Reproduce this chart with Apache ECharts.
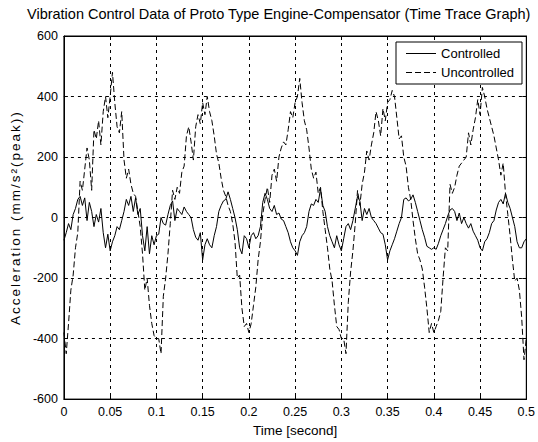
<!DOCTYPE html>
<html>
<head>
<meta charset="utf-8">
<script src="https://cdn.jsdelivr.net/npm/echarts@6/dist/echarts.min.js"></script>
<style>
html,body{margin:0;padding:0;background:#fff;}
#chart{width:538px;height:442px;}
</style>
</head>
<body>
<div id="chart"></div>
<script>
// Sample spacing of the time trace (seconds)
var timeStep = 0.0025;

// Uncontrolled acceleration (mm/s^2 peak), one value per time step from t = 0 to 0.5 s
var uncontrolled = [
  -380, -450, -350, -240, -190, -100, -50, 120, 90, 160,
  230, 190, 90, 290, 260, 320, 240, 350, 400, 330,
  400, 480, 380, 300, 280, 350, 190, 130, 160, 110,
  80, 70, 20, -30, -120, -240, -200, -290, -350, -390,
  -400, -400, -450, -260, -200, -120, -20, 90, 60, 100,
  80, 150, 170, 270, 300, 250, 190, 300, 340, 310,
  380, 340, 400, 350, 320, 270, 210, 180, 130, 90,
  70, 40, 20, -20, -80, -200, -190, -300, -360, -350,
  -380, -350, -290, -230, -140, -80, 10, 60, 100, 50,
  140, 160, 120, 200, 230, 250, 240, 290, 350, 330,
  380, 400, 460, 380, 320, 290, 230, 160, 130, 150,
  80, 100, 20, -40, -100, -170, -210, -290, -360, -370,
  -400, -400, -450, -280, -180, -110, -20, 90, 40, 110,
  150, 220, 190, 240, 280, 350, 320, 270, 360, 320,
  380, 390, 420, 400, 330, 260, 270, 200, 170, 100,
  60, -10, -70, -120, -140, -170, -230, -300, -380, -350,
  -380, -360, -340, -310, -200, -100, -110, 110, 80, 100,
  140, 170, 180, 190, 200, 280, 240, 290, 330, 390,
  340, 430, 400, 360, 330, 300, 270, 230, 190, 140,
  180, 80, 10, -60, -140, -210, -200, -240, -330, -470,
  -400
];

// Controlled acceleration (mm/s^2 peak), same time steps
var controlled = [
  -75, -50, -20, -40, 10, 30, 60, 70, 40, 65,
  -10, 50, 20, -30, 10, -15, 30, -50, -100, -55,
  -110, -80, -60, -30, -40, -10, 20, 60, 40, 70,
  20, 65, 10, 30, -60, -110, -30, -120, -60, -90,
  -60, -55, 0, -20, -25, 10, 40, 55, -10, 30,
  20, 10, 35, 20, 10, 0, -40, -65, -75, -50,
  -140, -90, -70, -90, -100, -60, -30, 20, 40, 55,
  60, 85, 60, 30, 0, -40, -100, -120, -60, -70,
  -100, -60, -50, -70, -60, -30, 50, 80, 60, 30,
  20, 40, 10, 15, -5, -10, -30, -50, -80, -100,
  -110, -125, -80, -60, -50, -30, 20, 45, 40, 60,
  50, 95, 40, 20, -30, -60, -80, -100, -60, -90,
  -110, -70, -30, -20, -40, -10, 30, 70, 55, -10,
  30, 10, 30, 0, -10, -20, -35, -50, -55, -90,
  -140, -110, -90, -70, -45, -20, 0, 60, 65, 55,
  60, 75, 50, 20, -10, -40, -65, -95, -100, -105,
  -100, -105, -85, -60, -40, -20, 5, 25, 30, 20,
  -10, 15, -20, 0, -20, -35, -20, -45, -60, -75,
  -100, -110, -80, -70, -50, -20, -10, 25, 50, 60,
  45, 80, 50, 30, 0, -30, -80, -100, -100, -80,
  -70
];

var seriesNames = ['Controlled', 'Uncontrolled'];
var titleText = 'Vibration Control Data of Proto Type Engine-Compensator (Time Trace Graph)';
var xName = 'Time [second]';
var yName = 'Acceleration (mm/s\u00B2(peak))';

function pairs(vals) {
  return vals.map(function (v, i) { return [+(i * timeStep).toFixed(4), v]; });
}

var font = 'Arial, "Liberation Sans", sans-serif';
var gridLine = { show: true, lineStyle: { color: '#000', type: [3, 4], width: 1 } };
var solidIcon = 'path://M0,0h30v1h-30z';
var dashIcon = 'path://M0,0h6v1h-6z M9,0h6v1h-6z M18,0h6v1h-6z M27,0h3v1h-3z';

var chart = echarts.init(document.getElementById('chart'), null, { renderer: 'svg' });
chart.setOption({
  animation: false,
  backgroundColor: '#fff',
  title: {
    text: titleText,
    left: 27, top: 6, padding: 0,
    textStyle: { fontFamily: font, fontSize: 14.5, fontWeight: 'normal', color: '#000' }
  },
  legend: {
    data: [{ name: seriesNames[0], icon: solidIcon }, { name: seriesNames[1], icon: dashIcon }],
    orient: 'vertical',
    right: 16, top: 42,
    itemWidth: 30, itemHeight: 1, itemGap: 6,
    padding: [5, 8, 5, 10],
    backgroundColor: '#fff',
    borderColor: '#000', borderWidth: 1,
    textStyle: { fontFamily: font, fontSize: 13, color: '#000', lineHeight: 13 }
  },
  grid: { left: 61, right: 11, top: 36, bottom: 40, show: true, borderColor: '#000', borderWidth: 1 },
  xAxis: [{
    type: 'value', min: 0, max: 0.5, interval: 0.05,
    name: xName, nameLocation: 'middle', nameGap: 23,
    nameTextStyle: { fontFamily: font, fontSize: 13.5, color: '#000' },
    axisLine: { show: true, onZero: false, lineStyle: { color: '#000' } },
    axisTick: { show: true, inside: true, length: 4, lineStyle: { color: '#000' } },
    axisLabel: { fontFamily: font, fontSize: 12.5, color: '#000', margin: 6,
      formatter: function (v) { return String(+v.toFixed(2)); } },
    splitLine: gridLine
  }, {
    type: 'value', min: 0, max: 0.5, interval: 0.05, position: 'top',
    axisLine: { show: true, onZero: false, lineStyle: { color: '#000' } },
    axisTick: { show: true, inside: true, length: 4, lineStyle: { color: '#000' } },
    axisLabel: { show: false }, splitLine: { show: false }
  }],
  yAxis: [{
    type: 'value', min: -600, max: 600, interval: 200,
    name: yName, nameLocation: 'middle', nameGap: 41, nameRotate: 90,
    nameTextStyle: { fontFamily: font, fontSize: 13.5, color: '#000' },
    axisLine: { show: true, onZero: false, lineStyle: { color: '#000' } },
    axisTick: { show: true, inside: true, length: 4, lineStyle: { color: '#000' } },
    axisLabel: { fontFamily: font, fontSize: 12.5, color: '#000', margin: 6 },
    splitLine: gridLine
  }, {
    type: 'value', min: -600, max: 600, interval: 200, position: 'right',
    axisLine: { show: true, onZero: false, lineStyle: { color: '#000' } },
    axisTick: { show: true, inside: true, length: 4, lineStyle: { color: '#000' } },
    axisLabel: { show: false }, splitLine: { show: false }
  }],
  series: [{
    name: seriesNames[0], type: 'line', xAxisIndex: 0, yAxisIndex: 0,
    data: pairs(controlled), showSymbol: false, symbol: 'none',
    lineStyle: { color: '#000', width: 1 }, itemStyle: { color: '#000' }
  }, {
    name: seriesNames[1], type: 'line', xAxisIndex: 0, yAxisIndex: 0,
    data: pairs(uncontrolled), showSymbol: false, symbol: 'none',
    lineStyle: { color: '#000', width: 1, type: [6, 3] }, itemStyle: { color: '#000' }
  }]
});

// The reference's rotated axis label is set with wider character spacing
var texts = document.querySelectorAll('#chart svg text');
for (var i = 0; i < texts.length; i++) {
  if (texts[i].textContent === yName) {
    texts[i].style.letterSpacing = '2px';
  }
}
</script>
</body>
</html>
